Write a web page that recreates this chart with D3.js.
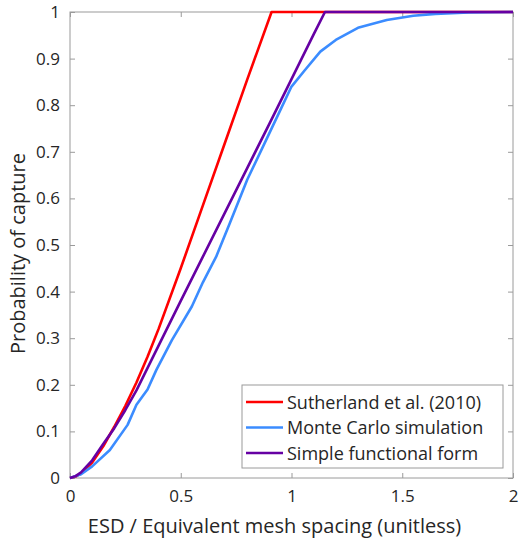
<!DOCTYPE html>
<html>
<head>
<meta charset="utf-8">
<script src="https://cdn.jsdelivr.net/npm/d3@7"></script>
<style>
  body { margin: 0; background: #fff; }
  svg { display: block; }
  text { font-family: "Open Sans", Lato, sans-serif; fill: #262626; }
</style>
</head>
<body>
<svg id="chart" width="519" height="541"></svg>
<script>
// Axis ticks
const xTicks = [0, 0.5, 1, 1.5, 2];
const yTicks = [0, 0.1, 0.2, 0.3, 0.4, 0.5, 0.6, 0.7, 0.8, 0.9, 1];

// Sutherland et al. (2010)
const sutherlandX = [0, 0.025, 0.05, 0.1, 0.15, 0.2, 0.25, 0.3, 0.35, 0.4, 0.5, 0.6, 0.7, 0.8, 0.91, 2];
const sutherlandP = [0, 0.003, 0.01, 0.033, 0.068, 0.11, 0.155, 0.205, 0.26, 0.32, 0.45, 0.585, 0.72, 0.855, 1, 1];

// Monte Carlo simulation
const monteCarloX = [0, 0.05, 0.1, 0.18, 0.26, 0.3, 0.35, 0.39, 0.46, 0.55, 0.6, 0.66, 0.72, 0.8, 0.89, 0.95, 1.0, 1.06, 1.13, 1.2, 1.3, 1.43, 1.55, 1.65, 1.8, 2];
const monteCarloP = [0, 0.008, 0.025, 0.06, 0.114, 0.157, 0.19, 0.232, 0.296, 0.368, 0.42, 0.475, 0.545, 0.64, 0.73, 0.79, 0.84, 0.875, 0.915, 0.94, 0.966, 0.983, 0.992, 0.996, 0.999, 1];

// Simple functional form
const simpleX = [0, 0.025, 0.05, 0.1, 0.15, 0.2, 0.25, 0.3, 0.4, 0.5, 0.6, 0.7, 0.8, 0.9, 1.0, 1.1, 1.151, 2];
const simpleP = [0, 0.004, 0.012, 0.038, 0.073, 0.107, 0.146, 0.188, 0.284, 0.38, 0.475, 0.57, 0.665, 0.76, 0.856, 0.952, 1, 1];

const seriesNames = ["Sutherland et al. (2010)", "Monte Carlo simulation", "Simple functional form"];
const seriesColors = ["#ff0000", "#3b8cff", "#6600a3"];

const xLabel = "ESD / Equivalent mesh spacing (unitless)";
const yLabel = "Probability of capture";

const series = [
  { name: seriesNames[0], color: seriesColors[0], pts: d3.zip(sutherlandX, sutherlandP) },
  { name: seriesNames[1], color: seriesColors[1], pts: d3.zip(monteCarloX, monteCarloP) },
  { name: seriesNames[2], color: seriesColors[2], pts: d3.zip(simpleX, simpleP) }
];

const svg = d3.select("#chart");
const margin = { left: 70, top: 12, right: 6, bottom: 63 };
const W = 519, H = 541;
const x = d3.scaleLinear().domain([0, 2]).range([margin.left, W - margin.right]);
const y = d3.scaleLinear().domain([0, 1]).range([H - margin.bottom, margin.top]);

const axisColor = "#9a9a9a";
const tickLen = 5;

// Plot frame
svg.append("rect")
  .attr("x", x(0)).attr("y", y(1))
  .attr("width", x(2) - x(0)).attr("height", y(0) - y(1))
  .attr("fill", "#fff").attr("stroke", axisColor).attr("stroke-width", 1);

// Axes with inward ticks on all four sides
function styleAxis(g) {
  g.select(".domain").remove();
  g.selectAll(".tick line").attr("stroke", axisColor);
  g.selectAll(".tick text").attr("font-size", 17).attr("fill", "#262626")
    .attr("font-family", "'Open Sans', Lato, sans-serif");
}
svg.append("g").attr("transform", `translate(0,${y(0)})`)
  .call(d3.axisBottom(x).tickValues(xTicks).tickFormat(d3.format("")).tickSizeInner(-tickLen).tickPadding(12))
  .call(styleAxis);
svg.append("g").attr("transform", `translate(0,${y(1)})`)
  .call(d3.axisTop(x).tickValues(xTicks).tickFormat("").tickSizeInner(-tickLen))
  .call(styleAxis);
svg.append("g").attr("transform", `translate(${x(0)},0)`)
  .call(d3.axisLeft(y).tickValues(yTicks).tickFormat(d3.format("")).tickSizeInner(-tickLen).tickPadding(10))
  .call(styleAxis);
svg.append("g").attr("transform", `translate(${x(2)},0)`)
  .call(d3.axisRight(y).tickValues(yTicks).tickFormat("").tickSizeInner(-tickLen))
  .call(styleAxis);

// Curves
const line = d3.line().x(d => x(d[0])).y(d => y(d[1]));
svg.append("g").selectAll("path").data(series).join("path")
  .attr("d", d => line(d.pts))
  .attr("fill", "none")
  .attr("stroke", d => d.color)
  .attr("stroke-width", 2.6)
  .attr("stroke-linejoin", "round");

// Axis titles
svg.append("text")
  .attr("x", 274.5).attr("y", 533)
  .attr("text-anchor", "middle").attr("font-size", 20)
  .text(xLabel);
svg.append("text")
  .attr("transform", `translate(25,253.5) rotate(-90)`)
  .attr("text-anchor", "middle").attr("font-size", 20)
  .text(yLabel);

// Legend
const lg = svg.append("g");
lg.append("rect")
  .attr("x", 242).attr("y", 385).attr("width", 261).attr("height", 83)
  .attr("fill", "#fff").attr("stroke", axisColor).attr("stroke-width", 1);
const rows = lg.selectAll("g.row").data(series).join("g")
  .attr("class", "row")
  .attr("transform", (d, i) => `translate(0,${402 + i * 25.5})`);
rows.append("line")
  .attr("x1", 246).attr("x2", 283).attr("y1", 0).attr("y2", 0)
  .attr("stroke", d => d.color).attr("stroke-width", 2.6);
rows.append("text")
  .attr("x", 287).attr("y", 6.5)
  .attr("font-size", 18)
  .text(d => d.name);
</script>
</body>
</html>
